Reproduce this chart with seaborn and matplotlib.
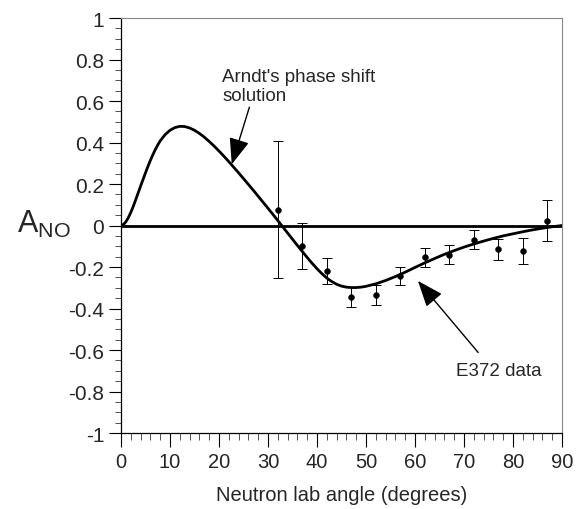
import matplotlib
matplotlib.use("Agg")
import matplotlib.pyplot as plt
import seaborn as sns
import numpy as np
import pandas as pd
from matplotlib.ticker import MultipleLocator

# Arndt's phase shift solution
curve_angle = [0, 0.5, 1, 1.5, 2, 2.5, 3, 3.5, 4, 4.5, 5, 5.5, 6, 6.5, 7, 7.5, 8, 9, 10,
               11, 12, 13, 14, 15, 16, 17, 18, 19, 20, 21, 22, 23, 24, 25, 26, 27, 28,
               29, 30, 31, 32, 33, 34, 35, 36, 37, 38, 39, 40, 41, 42, 43, 44, 45, 46,
               47, 48, 49, 50, 52, 54, 56, 58, 60, 62, 64, 66, 68, 70, 72, 74, 76, 78,
               80, 82, 84, 86, 88, 90]
curve_ano = [0.0, 0.005, 0.018, 0.038, 0.063, 0.092, 0.124, 0.157, 0.19, 0.222, 0.254,
             0.285, 0.314, 0.341, 0.366, 0.388, 0.408, 0.438, 0.459, 0.472, 0.478, 0.477,
             0.470, 0.459, 0.444, 0.426, 0.405, 0.383, 0.359, 0.334, 0.308, 0.281,
             0.254, 0.226, 0.198, 0.170, 0.141, 0.112, 0.083, 0.054, 0.024, -0.006,
             -0.036, -0.066, -0.096, -0.125, -0.154, -0.182, -0.208, -0.232, -0.253,
             -0.270, -0.283, -0.292, -0.297, -0.299, -0.299, -0.297, -0.293, -0.281,
             -0.265, -0.246, -0.225, -0.202, -0.180, -0.159, -0.139, -0.121, -0.104,
             -0.089, -0.075, -0.062, -0.050, -0.040, -0.030, -0.021, -0.013, -0.006, 0.0]

# E372 data
data_angle = [32, 37, 42, 47, 52, 57, 62, 67, 72, 77, 82, 87]
data_ano = [0.077, -0.099, -0.22, -0.344, -0.335, -0.243, -0.154, -0.141, -0.069,
            -0.115, -0.123, 0.024]
data_err = [0.33, 0.11, 0.063, 0.05, 0.05, 0.045, 0.045, 0.045, 0.045, 0.05, 0.064, 0.10]

x_ticks = [0, 10, 20, 30, 40, 50, 60, 70, 80, 90]
y_ticks = [-1, -0.8, -0.6, -0.4, -0.2, 0, 0.2, 0.4, 0.6, 0.8, 1]
y_tick_labels = ["-1", "-0.8", "-0.6", "-0.4", "-0.2", "0", "0.2", "0.4", "0.6", "0.8", "1"]

sns.set_style("white")
plt.rcParams["font.family"] = ["Liberation Sans", "DejaVu Sans"]
plt.rcParams["mathtext.fontset"] = "custom"
plt.rcParams["mathtext.rm"] = "Liberation Sans"

fig = plt.figure(figsize=(5.82, 5.10), dpi=100)
ax = fig.add_axes([0.2079, 0.149, 0.7577, 0.8137])

curve_df = pd.DataFrame({"angle": curve_angle, "ano": curve_ano})
data_df = pd.DataFrame({"angle": data_angle, "ano": data_ano, "err": data_err})

ax.axhline(0, color="black", lw=2.0, zorder=2)
sns.lineplot(data=curve_df, x="angle", y="ano", ax=ax, color="black", lw=2.0,
             estimator=None, sort=False, zorder=3)
ax.errorbar(data_df["angle"], data_df["ano"], yerr=data_df["err"], fmt="none",
            ecolor="black", elinewidth=0.7, capsize=3.5, capthick=0.7, zorder=4)
sns.scatterplot(data=data_df, x="angle", y="ano", ax=ax, color="black", s=18,
                edgecolor="black", zorder=5)

ax.set_xlim(0, 90)
ax.set_ylim(-1, 1)
ax.set_xticks(x_ticks)
ax.set_yticks(y_ticks)
ax.set_yticklabels(y_tick_labels)
ax.xaxis.set_minor_locator(MultipleLocator(2))
ax.yaxis.set_minor_locator(MultipleLocator(0.05))
ax.tick_params(axis="x", which="major", labelsize=14.5, direction="out", length=10,
               width=0.8, pad=4, bottom=True, color="black")
ax.tick_params(axis="x", which="minor", direction="out", length=5, width=0.6,
               bottom=True, color="#333333")
ax.tick_params(axis="y", which="major", labelsize=15, direction="out", length=9,
               width=0.8, pad=3, left=True, color="black")
ax.tick_params(axis="y", which="minor", direction="out", length=4, width=0.6,
               left=True, color="#333333")

for side in ["left", "bottom"]:
    ax.spines[side].set_color("black")
    ax.spines[side].set_linewidth(0.9)
for side in ["top", "right"]:
    ax.spines[side].set_color("#888888")
    ax.spines[side].set_linewidth(0.8)

ax.set_xlabel("Neutron lab angle (degrees)", fontsize=14.5, labelpad=10)
ax.set_ylabel(r"$\mathrm{A_{NO}}$", fontsize=22, rotation=0, labelpad=0)
ax.yaxis.set_label_coords(-0.175, 0.505)
ax.yaxis.label.set_va("center")

ax.text(20.7, 0.672, "Arndt's phase shift\nsolution", fontsize=13.5, ha="left",
        va="center", linespacing=1.1)
ax.annotate("", xy=(22.6, 0.295), xytext=(26.2, 0.57),
            arrowprops=dict(arrowstyle="-|>,head_length=0.9,head_width=0.35",
                            color="black", lw=1.0, mutation_scale=18,
                            shrinkA=0, shrinkB=0))
ax.text(77.1, -0.70, "E372 data", fontsize=13.5, ha="center", va="center")
ax.annotate("", xy=(60.6, -0.267), xytext=(72.9, -0.612),
            arrowprops=dict(arrowstyle="-|>,head_length=0.9,head_width=0.35",
                            color="black", lw=1.0, mutation_scale=18,
                            shrinkA=0, shrinkB=0))

fig.savefig("out.png", dpi=100)
